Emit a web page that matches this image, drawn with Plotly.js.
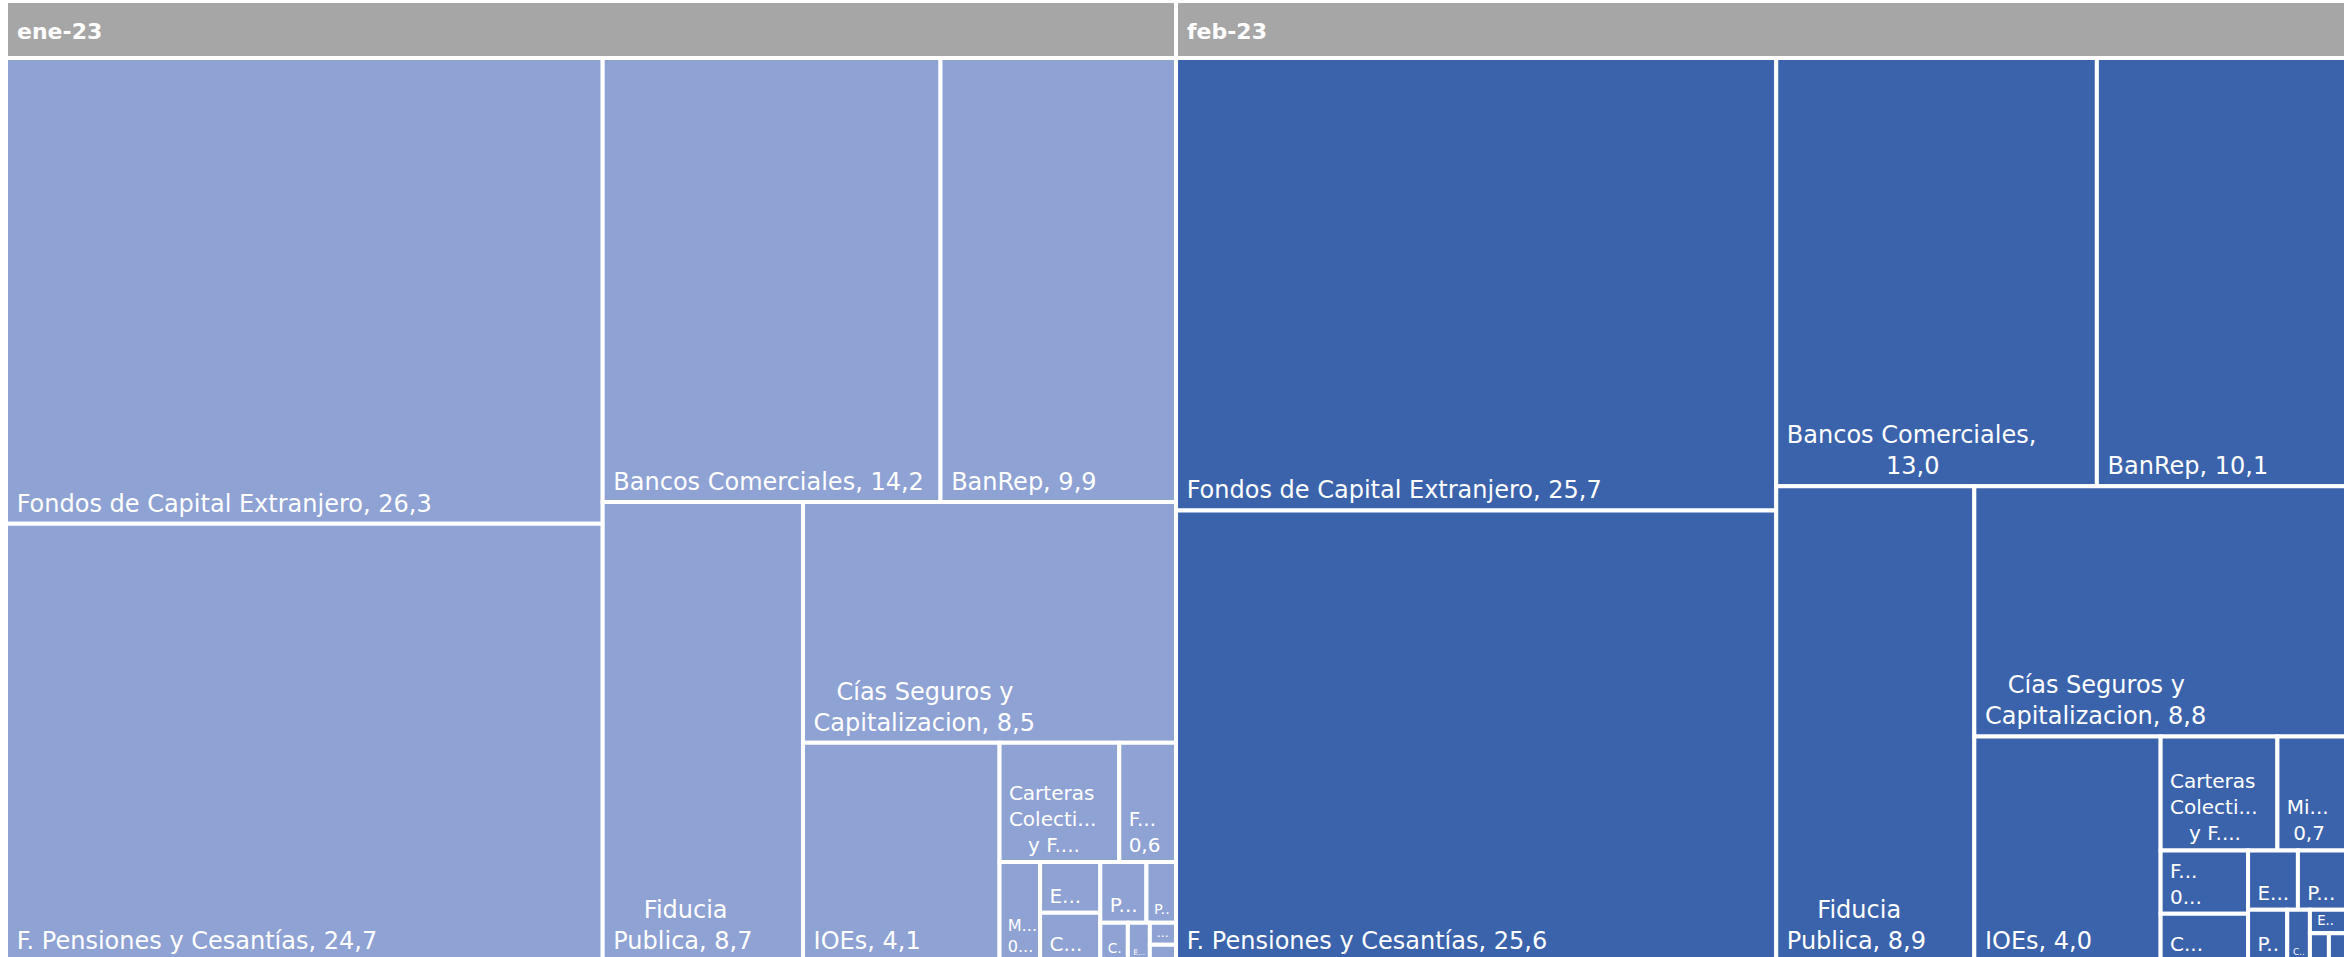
<!DOCTYPE html>
<html>
<head>
<meta charset="utf-8">
<script src="https://cdn.plot.ly/plotly-3.0.1.min.js"></script>
<style>
html, body { margin: 0; padding: 0; overflow: hidden; background: #ffffff; }
#chart { width: 2348px; height: 1018px; margin-top: -57px; }
</style>
</head>
<body>
<div id="chart"></div>
<script>
// ---- data ----
const periods = ['ene-23', 'feb-23'];

const categories = [
  'Fondos de Capital Extranjero',
  'F. Pensiones y Cesantías',
  'Bancos Comerciales',
  'BanRep',
  'Fiducia Publica',
  'Cías Seguros y Capitalizacion',
  'IOEs',
  'Carteras Colectivas y Fondos de Inversión',
  'FOGAFIN',
  'Ministerio de Hacienda',
  'Entidades Públicas',
  'Corporaciones Financieras',
  'Personas Jurídicas',
  'Personas Naturales',
  'Compañías de Financiamiento',
  'Entidades Territoriales',
  'Otros',
  'Cooperativas'
];

const valuesEne = [26.3, 24.7, 14.2, 9.9, 8.7, 8.5, 4.06, 1.35, 0.64, 0.38, 0.29, 0.275, 0.265, 0.17, 0.10, 0.08, 0.055, 0.04];
const valuesFeb = [25.7, 25.6, 13.0, 10.1, 8.9, 8.8, 3.96, 1.26, 0.525, 0.74, 0.28, 0.39, 0.27, 0.19, 0.11, 0.08, 0.05, 0.045];

// labels as they are printed in each box ({v} = value)
const shownEne = [
  'Fondos de Capital Extranjero, {v}',
  'F. Pensiones y Cesantías, {v}',
  'Bancos Comerciales, {v}',
  'BanRep, {v}',
  'Fiducia<br>Publica, {v}',
  'Cías Seguros y<br>Capitalizacion, {v}',
  'IOEs, {v}',
  'Carteras<br>Colecti...<br>y F....',
  'F...<br>{v}',
  'M...<br>0...',
  'E...',
  'C...',
  'P...',
  'P..',
  'C.',
  'E...',
  '...',
  ''
];
const shownFeb = [
  'Fondos de Capital Extranjero, {v}',
  'F. Pensiones y Cesantías, {v}',
  'Bancos Comerciales,<br>{v}',
  'BanRep, {v}',
  'Fiducia<br>Publica, {v}',
  'Cías Seguros y<br>Capitalizacion, {v}',
  'IOEs, {v}',
  'Carteras<br>Colecti...<br>y F....',
  'F...<br>0...',
  'Mi...<br>{v}',
  'E...',
  'C...',
  'P...',
  'P..',
  'C..',
  'E..',
  '',
  ''
];

// ---- build the treemap ----
const headerColor = '#a6a6a6';
const leafColors = ['#8fa2d4', '#3b63ac'];
const FONT = 'DejaVu Sans';
const HEADER = 57;   // height of each month header band (px)

const ctx = document.createElement('canvas').getContext('2d');
function centerLines(str, size) {
  if (!str) return '';
  ctx.font = size + 'px "' + FONT + '"';
  const lines = str.split('<br>');
  const ws = lines.map(l => ctx.measureText(l).width);
  const maxW = Math.max.apply(null, ws);
  const sp = ctx.measureText('\u00a0').width;
  // leading space = inner padding; extra spaces centre the shorter lines
  const body = lines.map((l, i) => '\u00a0'.repeat(1 + Math.round((maxW - ws[i]) / 2 / sp)) + l).join('<br>');
  // a trailing subscript blank lifts the label off the bottom edge a little
  return body + '<sub>\u00a0</sub>';
}
const fmt = v => v.toFixed(1).replace('.', ',');

const ids = [], labels = [], parents = [], values = [], colors = [], texts = [], sizes = [];
const seriesValues = [valuesEne, valuesFeb];
const seriesShown = [shownEne, shownFeb];

periods.forEach((p, pi) => {
  ids.push(p); labels.push(p); parents.push(''); values.push(0);
  colors.push(headerColor); texts.push(''); sizes.push(24);
  categories.forEach((c, ci) => {
    const v = seriesValues[pi][ci];
    const size = v >= 3 ? 24 : 20;
    ids.push(p + ' | ' + c);
    labels.push(c);
    parents.push(p);
    values.push(v);
    colors.push(leafColors[pi]);
    sizes.push(size);
    texts.push(centerLines(seriesShown[pi][ci].replace('{v}', fmt(v)), size));
  });
});

const trace = {
  type: 'treemap',
  ids: ids,
  labels: labels,
  parents: parents,
  values: values,
  branchvalues: 'remainder',
  sort: true,
  text: texts,
  texttemplate: '%{text}',
  textposition: 'bottom left',
  textfont: { family: FONT, size: sizes, color: '#ffffff' },
  hovertemplate: '%{label}: %{value:.1f}<extra></extra>',
  tiling: { packing: 'binary', pad: 0 },
  marker: {
    colors: colors,
    line: { color: '#ffffff', width: 4 },
    pad: { t: HEADER, l: 0, r: 0, b: 0 },
    depthfade: false
  },
  leaf: { opacity: 1 },
  pathbar: { visible: false },
  root: { color: 'rgba(0,0,0,0)' }
};

const layout = {
  width: 2348,
  height: 1018,
  margin: { l: 6, r: 2, t: 1, b: 0 },
  paper_bgcolor: '#ffffff',
  separators: ',.',
  font: { family: FONT, size: 24, color: '#ffffff' },
  showlegend: false,
  annotations: periods.map((p, i) => ({
    text: p,
    xref: 'paper', yref: 'paper',
    x: i * 0.5, y: 1,
    xanchor: 'left', yanchor: 'middle',
    xshift: 9, yshift: -(HEADER + 30),
    showarrow: false,
    font: { family: FONT, size: 22, color: '#ffffff', weight: 'bold' }
  }))
};

Plotly.newPlot('chart', [trace], layout, { displayModeBar: false, staticPlot: true });
</script>
</body>
</html>
